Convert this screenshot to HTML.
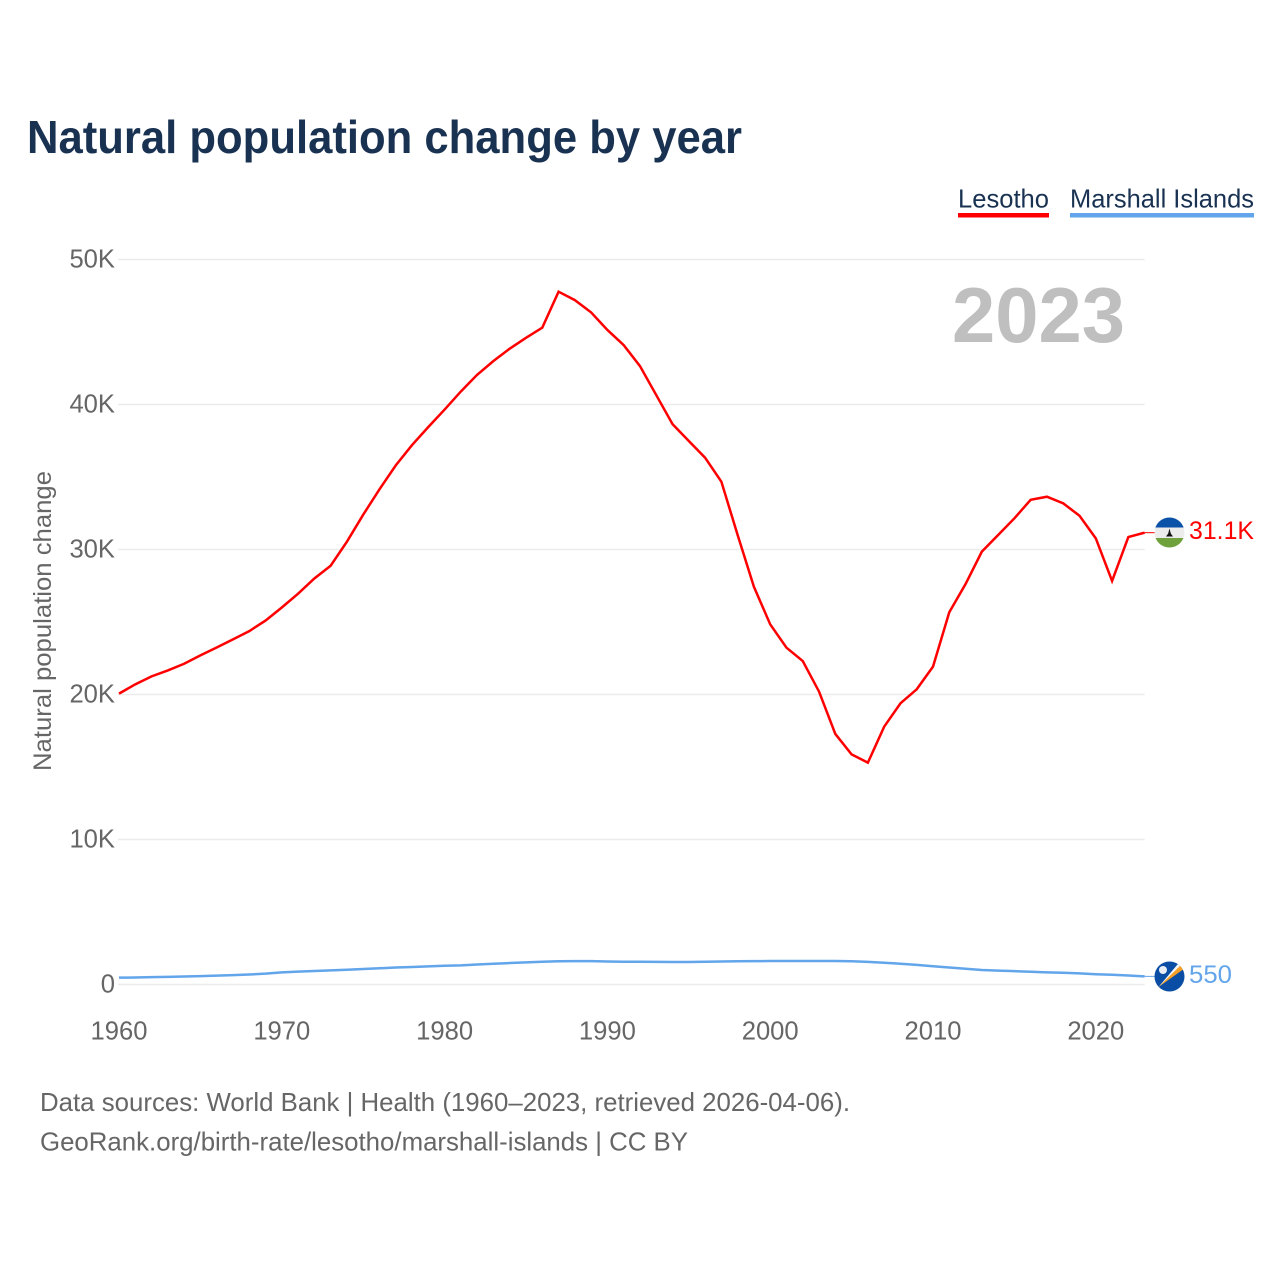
<!DOCTYPE html>
<html lang="en">
<head>
<meta charset="utf-8">
<title>Natural population change by year</title>
<style>
html,body{margin:0;padding:0;background:#fff;}
svg{display:block;font-family:"Liberation Sans",sans-serif;}
</style>
</head>
<body>
<svg id="chart" xmlns="http://www.w3.org/2000/svg" width="1280" height="1280" viewBox="0 0 1280 1280">
  <defs>
    <clipPath id="flag-clip-a"><circle cx="1169.5" cy="532.5" r="15"/></clipPath>
    <clipPath id="flag-clip-b"><circle cx="1169.5" cy="976.5" r="15"/></clipPath>
  </defs>
  <rect width="1280" height="1280" fill="#fff"/>
  <text x="27" y="153" font-size="46" font-weight="700" fill="#193252" textLength="715" lengthAdjust="spacingAndGlyphs">Natural population change by year</text>

  <g>
    <text x="958" y="207.5" font-size="26" fill="#193252" textLength="91" lengthAdjust="spacingAndGlyphs">Lesotho</text>
    <rect x="958" y="213" width="91" height="4.5" fill="#ff0000"/>
  </g>
  <g>
    <text x="1070" y="207.5" font-size="26" fill="#193252" textLength="184" lengthAdjust="spacingAndGlyphs">Marshall Islands</text>
    <rect x="1070" y="213" width="184" height="4.5" fill="#62a5ea"/>
  </g>

  <g id="grid"></g>
  <g id="y-ticks"></g>
  <g id="x-ticks"></g>

  <text transform="translate(51,771) rotate(-90)" font-size="25" fill="#666" textLength="300" lengthAdjust="spacingAndGlyphs">Natural population change</text>

  <text x="952" y="342" font-size="78" font-weight="700" fill="#bfbfbf" textLength="173" lengthAdjust="spacingAndGlyphs">2023</text>

  <g id="series"></g>

  <g clip-path="url(#flag-clip-a)">
    <rect x="1154" y="517" width="31" height="10.5" fill="#0a52a8"/>
    <rect x="1154" y="527.5" width="31" height="10.5" fill="#ececec"/>
    <rect x="1154" y="538" width="31" height="11" fill="#6fa23c"/>
    <path d="M1169.5 528.5 L1170.8 533.5 L1173 536.5 L1166 536.5 L1168.2 533.5 Z" fill="#111"/>
  </g>
  <g clip-path="url(#flag-clip-b)">
    <rect x="1154" y="961" width="31" height="31" fill="#0a4da5"/>
    <path d="M1158.5 987 L1180 961.5 L1184.5 966 Z" fill="#f4f4f4"/>
    <path d="M1158.5 987 L1182 964 L1184.5 968.5 Z" fill="#f59f28"/>
    <circle cx="1163" cy="970" r="4" fill="#e9eef6"/>
  </g>

  <text id="end-label-a" x="1189" y="539" font-size="25" fill="#ff0000" textLength="65" lengthAdjust="spacingAndGlyphs"></text>
  <text id="end-label-b" x="1189" y="983" font-size="25" fill="#62a5ea" textLength="43" lengthAdjust="spacingAndGlyphs"></text>

  <text x="40" y="1111" font-size="26" fill="#666" textLength="810" lengthAdjust="spacingAndGlyphs">Data sources: World Bank | Health (1960–2023, retrieved 2026-04-06).</text>
  <text x="40" y="1150.5" font-size="26" fill="#666" textLength="648" lengthAdjust="spacingAndGlyphs">GeoRank.org/birth-rate/lesotho/marshall-islands | CC BY</text>
</svg>
<script>
const startYear = 1960;
const yTickValues = [0, 10000, 20000, 30000, 40000, 50000];
const yTickLabels = ["0", "10K", "20K", "30K", "40K", "50K"];
const xTickYears = [1960, 1970, 1980, 1990, 2000, 2010, 2020];
const lesothoValues = [
  20060,20700,21250,21660,22120,22700,23240,23800,24370,25100,
  26000,26950,28000,28880,30540,32400,34150,35800,37200,38450,
  39650,40900,42050,43000,43850,44600,45300,47780,47200,46350,
  45140,44100,42650,40650,38650,37480,36330,34680,31000,27430,
  24840,23230,22310,20200,17280,15870,15300,17780,19390,20360,
  21920,25670,27620,29850,31000,32150,33430,33640,33180,32330,
  30770,27830,30860,31160
];
const marshallValues = [
  470,485,505,525,550,580,610,645,690,750,
  840,890,930,970,1020,1070,1120,1170,1210,1250,
  1290,1320,1380,1430,1480,1530,1570,1600,1610,1610,
  1590,1570,1570,1560,1550,1550,1570,1590,1600,1610,
  1620,1620,1620,1620,1620,1600,1560,1500,1430,1350,
  1260,1170,1090,1000,960,920,880,840,810,770,
  710,670,620,560
];
const lesothoEndLabel = "31.1K";
const marshallEndLabel = "550";

const SVG_NS = "http://www.w3.org/2000/svg";
const xLeft = 119, xPerYear = 16.28, yZero = 984.5, yPerUnit = 14.5 / 1000;
function xScale(year) { return xLeft + (year - startYear) * xPerYear; }
function yScale(value) { return yZero - value * yPerUnit; }

const gridGroup = document.getElementById("grid");
const yTickGroup = document.getElementById("y-ticks");
const xTickGroup = document.getElementById("x-ticks");
const seriesGroup = document.getElementById("series");

yTickValues.forEach(function (value, i) {
  const line = document.createElementNS(SVG_NS, "line");
  
  
  line.setAttribute("x1", 118);
  line.setAttribute("x2", xScale(2023));
  line.setAttribute("y1", yScale(value));
  line.setAttribute("y2", yScale(value));
  line.setAttribute("stroke", "#ebebeb");
  line.setAttribute("stroke-width", 1.5);
  gridGroup.appendChild(line);

  const label = document.createElementNS(SVG_NS, "text");
  
  
  label.setAttribute("x", 115);
  label.setAttribute("y", yScale(value) + 8);
  label.setAttribute("text-anchor", "end");
  label.setAttribute("font-size", 25.6);
  label.setAttribute("fill", "#666");
  label.textContent = yTickLabels[i];
  yTickGroup.appendChild(label);
});

xTickYears.forEach(function (year) {
  const label = document.createElementNS(SVG_NS, "text");
  
  
  label.setAttribute("x", xScale(year));
  label.setAttribute("y", 1039.5);
  label.setAttribute("text-anchor", "middle");
  label.setAttribute("font-size", 25.6);
  label.setAttribute("fill", "#666");
  label.textContent = String(year);
  xTickGroup.appendChild(label);
});

function drawSeries(values, color, name) {
  const points = values.map(function (value, i) {
    return xScale(startYear + i).toFixed(2) + "," + yScale(value).toFixed(2);
  }).join(" ");
  const path = document.createElementNS(SVG_NS, "polyline");
  
  
  path.setAttribute("points", points);
  path.setAttribute("fill", "none");
  path.setAttribute("stroke", color);
  path.setAttribute("stroke-width", 2.5);
  path.setAttribute("stroke-linejoin", "miter");
  seriesGroup.appendChild(path);

  const lastY = yScale(values[values.length - 1]);
  const leader = document.createElementNS(SVG_NS, "line");
  
  
  leader.setAttribute("x1", xScale(startYear + values.length - 1));
  leader.setAttribute("x2", 1155);
  leader.setAttribute("y1", lastY);
  leader.setAttribute("y2", lastY);
  leader.setAttribute("stroke", color);
  leader.setAttribute("stroke-width", 1);
  seriesGroup.appendChild(leader);
}
drawSeries(marshallValues, "#62a5ea", "line-marshall-islands");
drawSeries(lesothoValues, "#ff0000", "line-lesotho");

document.getElementById("end-label-a").textContent = lesothoEndLabel;
document.getElementById("end-label-b").textContent = marshallEndLabel;
</script>
</body>
</html>
